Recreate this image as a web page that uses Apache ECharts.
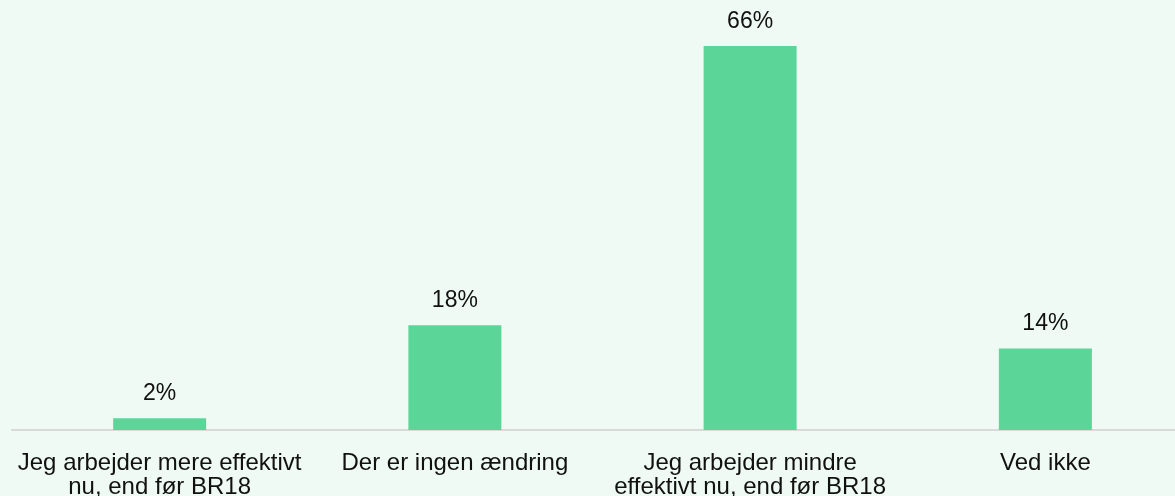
<!DOCTYPE html>
<html><head><meta charset="utf-8">
<script src="https://cdn.jsdelivr.net/npm/echarts@6/dist/echarts.min.js"></script>
<style>html,body{margin:0;padding:0;background:#eefaf3;overflow:hidden;}#c{width:1193px;height:496px;}</style>
</head><body><div id="c"></div>
<script>
const categories = ["Jeg arbejder mere effektivt\nnu, end før BR18", "Der er ingen ændring", "Jeg arbejder mindre\neffektivt nu, end før BR18", "Ved ikke"];
const values = [2, 18, 66, 14];
const FONT = "Arial";
const chart = echarts.init(document.getElementById('c'));
chart.setOption({
  backgroundColor: '#eefaf3',
  animation: false,
  grid: { left: 12, right: 0, top: 22.7, bottom: 66, containLabel: false, outerBoundsMode: 'none' },
  xAxis: {
    type: 'category', data: categories,
    axisLine: { lineStyle: { color: '#d9d9d9', width: 2 } },
    axisTick: { show: false },
    axisLabel: { color: '#111111', fontFamily: FONT, fontSize: 24, lineHeight: 24, margin: 21, interval: 0 }
  },
  yAxis: { type: 'value', min: 0, max: 70, show: false, splitLine: { show: false } },
  series: [{
    type: 'bar', data: values, barWidth: '31.5%',
    itemStyle: { color: '#5cd698' },
    label: { show: true, position: 'top', distance: 13, formatter: '{c}%', color: '#111111', fontFamily: FONT, fontSize: 23 }
  }]
});
</script></body></html>
